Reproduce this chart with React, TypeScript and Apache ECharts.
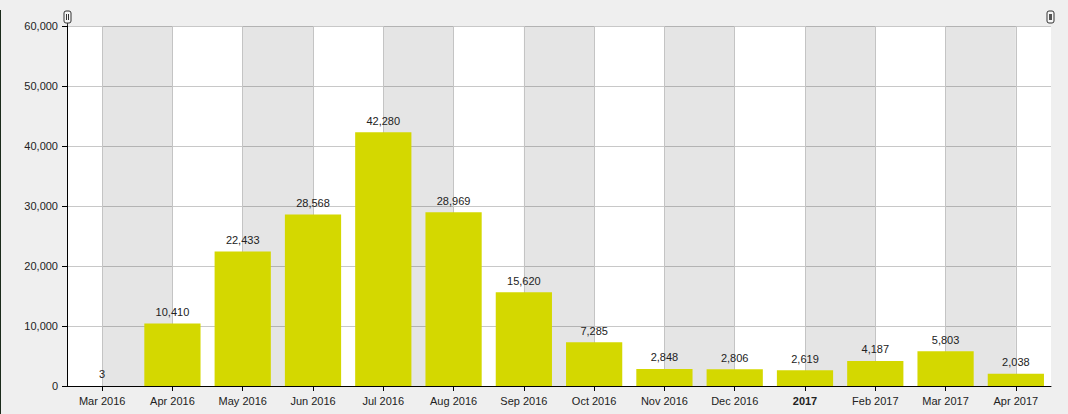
import React, { useEffect, useRef } from "react";
import * as echarts from "echarts";

const categories = [
  "Mar 2016", "Apr 2016", "May 2016", "Jun 2016", "Jul 2016", "Aug 2016", "Sep 2016",
  "Oct 2016", "Nov 2016", "Dec 2016", "2017", "Feb 2017", "Mar 2017", "Apr 2017",
];
const values = [3, 10410, 22433, 28568, 42280, 28969, 15620, 7285, 2848, 2806, 2619, 4187, 5803, 2038];
const bandPairs = [
  ["Mar 2016", "Apr 2016"], ["May 2016", "Jun 2016"], ["Jul 2016", "Aug 2016"],
  ["Sep 2016", "Oct 2016"], ["Nov 2016", "Dec 2016"], ["2017", "Feb 2017"], ["Mar 2017", "Apr 2017"],
];

const FONT = "'Liberation Sans', Arial, sans-serif";
const fmt = (v: number) => v.toLocaleString("en-US");

export default function App() {
  const ref = useRef<HTMLDivElement>(null);
  useEffect(() => {
    document.body.style.margin = "0";
    const chart = echarts.init(ref.current!, null, { renderer: "svg" });
    chart.setOption({
      animation: false,
      backgroundColor: "#efefef",
      textStyle: { fontFamily: FONT },
      grid: { left: 67, right: 17, top: 26, bottom: 28, show: true, backgroundColor: "#ffffff", borderWidth: 0 },
      xAxis: {
        type: "category",
        data: categories,
        boundaryGap: true,
        axisLine: { show: true, lineStyle: { color: "#000", width: 1 } },
        axisTick: { show: true, alignWithLabel: true, length: 5, lineStyle: { color: "#000" } },
        axisLabel: {
          color: "#222",
          fontSize: 11,
          fontFamily: FONT,
          margin: 9,
          interval: 0,
          formatter: (v: string) => (v === "2017" ? "{b|2017}" : v),
          rich: { b: { fontWeight: "bold", fontSize: 11, color: "#222", fontFamily: FONT } },
        },
        splitLine: { show: false },
      },
      yAxis: {
        type: "value",
        min: 0,
        max: 60000,
        interval: 10000,
        axisLine: { show: true, lineStyle: { color: "#000", width: 1 } },
        axisTick: { show: true, length: 5, lineStyle: { color: "#000" } },
        axisLabel: { color: "#222", fontSize: 11, fontFamily: FONT, margin: 9, formatter: (v: number) => fmt(v) },
        splitLine: { show: true, lineStyle: { color: "#c8c8c8", width: 1 } },
      },
      graphic: [
        { type: "rect", shape: { x: 0, y: 10, width: 1, height: 404 }, style: { fill: "#1b2b1b" }, silent: true },
        {
          type: "group",
          children: [
            { type: "rect", shape: { x: 64, y: 11, width: 7, height: 12, r: 2 }, style: { fill: "#f6f6f6", stroke: "#333", lineWidth: 1 } },
            { type: "line", shape: { x1: 66.5, y1: 14, x2: 66.5, y2: 20 }, style: { stroke: "#333", lineWidth: 1 } },
            { type: "line", shape: { x1: 68.5, y1: 14, x2: 68.5, y2: 20 }, style: { stroke: "#333", lineWidth: 1 } },
            { type: "line", shape: { x1: 67.5, y1: 23, x2: 67.5, y2: 26 }, style: { stroke: "#333", lineWidth: 1 } },
            { type: "rect", shape: { x: 1047, y: 11, width: 7, height: 12, r: 2 }, style: { fill: "#f6f6f6", stroke: "#333", lineWidth: 1 } },
            { type: "rect", shape: { x: 1049, y: 14, width: 3, height: 6 }, style: { fill: "#555" } },
          ],
        },
      ],
      series: [
        {
          type: "line",
          data: [],
          z: 1,
          silent: true,
          markArea: {
            silent: true,
            z: 1,
            itemStyle: { color: "rgba(0,0,0,0.1)" },
            label: { show: false },
            data: bandPairs.map(([a, b]) => [{ xAxis: a }, { xAxis: b }]),
          },
          markLine: {
            silent: true,
            z: 1,
            symbol: "none",
            label: { show: false },
            lineStyle: { color: "#c4c4c4", type: "solid", width: 1 },
            data: categories.map((c) => ({ xAxis: c })),
          },
        },
        {
          type: "bar",
          data: values,
          z: 3,
          barWidth: "80%",
          itemStyle: { color: "#d4d800" },
          label: {
            show: true,
            position: "top",
            distance: 6,
            color: "#222",
            fontSize: 11,
            fontFamily: FONT,
            formatter: (p: any) => fmt(p.value),
          },
        },
      ],
    });
    return () => chart.dispose();
  }, []);
  return <div ref={ref} style={{ width: 1068, height: 414 }} />;
}
